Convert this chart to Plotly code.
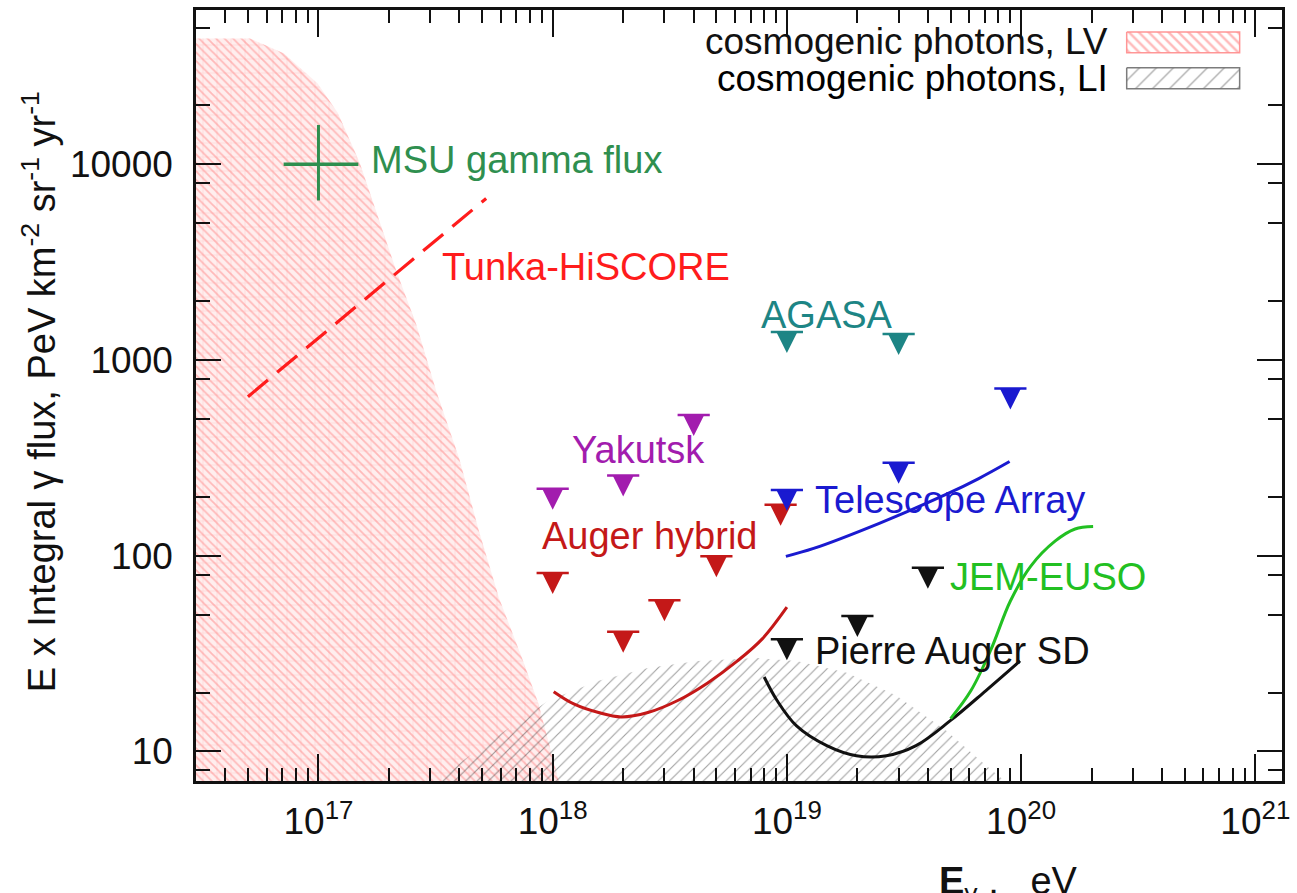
import numpy as np
import plotly.graph_objects as go

# ---------------- data (energy in eV, E x integral flux in PeV km^-2 sr^-1 yr^-1) ----------------
# cosmogenic photons, Lorentz-violating scenario: upper edge of the band
lv_E = [3.0e16, 5.1e16, 7.1e16, 9.9e16, 1.21e17, 1.50e17, 1.77e17, 2.16e17, 2.62e17,
        3.19e17, 3.99e17, 4.85e17, 5.90e17, 7.39e17, 8.7e17, 1.06e18]
lv_F = [4.4e4, 4.4e4, 3.7e4, 2.6e4, 1.83e4, 1.02e4, 5680, 2810, 1510,
        689, 314, 133, 60.8, 30.1, 17.5, 7.1]

# cosmogenic photons, Lorentz-invariant scenario: upper edge of the band
li_E = [3.1e17, 4.85e17, 9.6e17, 1.57e18, 2.55e18, 4.16e18, 7.47e18, 1.1e19,
        1.8e19, 2.93e19, 4.78e19, 7.06e19, 8.6e19]
li_F = [7.0, 10.3, 18.2, 23.0, 26.7, 29.0, 30.0, 29.0, 25.2, 19.3, 12.8, 8.5, 7.0]

# MSU gamma flux point with its ranges
msu_E, msu_F = [1e17], [1e4]
msu_E_lo, msu_E_hi = [7.1e16], [1.48e17]
msu_F_lo, msu_F_hi = [6540], [15900]

# Tunka-HiSCORE expected sensitivity
tunka_E = [5.0e16, 5.2e17]
tunka_F = [650, 6700]

# upper limits
agasa_E = [1e19, 3e19]
agasa_F = [1390, 1360]

yakutsk_E = [1e18, 2e18, 4e18]
yakutsk_F = [220, 257, 524]

hybrid_E = [1e18, 2e18, 3e18, 5e18, 9.4e18]
hybrid_F = [81.7, 40.9, 59.3, 99.4, 182]

ta_E = [1e19, 3e19, 9e19]
ta_F = [217, 299, 715]

sd_E = [1e19, 2e19, 4e19]
sd_F = [37.4, 49.2, 86.7]

# sensitivity curves
hybrid_curve_E = [1.01e18, 1.23e18, 1.57e18, 1.96e18, 2.55e18, 3.42e18, 4.59e18, 6.15e18, 7.85e18, 1.0e19]
hybrid_curve_F = [20.2, 17.5, 15.8, 15.0, 15.8, 18.2, 22.4, 29.0, 37.6, 54.6]

sd_curve_E = [8.0e18, 9.08e18, 1.1e19, 1.48e19, 1.98e19, 2.66e19, 3.56e19, 5.0e19, 7.06e19, 9.9e19]
sd_curve_F = [24.0, 18.2, 13.5, 10.7, 9.5, 9.5, 10.7, 14.4, 20.4, 29.0]

jem_E = [5.0e19, 6.1e19, 7.4e19, 9.0e19, 1.1e20, 1.4e20, 1.7e20, 2.03e20]
jem_F = [14.7, 20.4, 32.7, 58.7, 88.5, 119, 137, 141]

ta_curve_E = [9.9e18, 1.30e19, 2.48e19, 4.78e19, 6.59e19, 8.93e19]
ta_curve_F = [99.3, 109, 146.5, 205.6, 248, 303]

x_major = [1e17, 1e18, 1e19, 1e20, 1e21]
x_major_text = ["10<sup>17</sup>", "10<sup>18</sup>", "10<sup>19</sup>", "10<sup>20</sup>", "10<sup>21</sup>"]
y_major = [10, 100, 1000, 10000]
y_major_text = ["10", "100", "1000", "10000"]

# ---------------- styling ----------------
FONT = "Liberation Sans, Arial, Helvetica, sans-serif"
FS = 38
C_AGASA = "#1d8585"
C_YAK = "#a21cae"
C_HYB = "#c41818"
C_TA = "#1a1ad0"
C_SD = "#111111"
C_JEM = "#22c022"
C_MSU = "#2f8f4f"
C_TUNKA = "#ff1c1c"

FLOOR = 1.0  # closes the bands below the visible range

fig = go.Figure()

# LV band: fine diagonal hatch over a faint grid
lv_x = lv_E + [lv_E[-1], lv_E[0]]
lv_y = lv_F + [FLOOR, FLOOR]
fig.add_trace(go.Scatter(
    x=lv_x, y=lv_y, mode="lines", line=dict(width=0), fill="toself", fillcolor="rgba(0,0,0,0)",
    fillpattern=dict(shape="\\", fgcolor="rgba(255,105,105,0.8)", bgcolor="rgba(255,222,222,0.5)",
                     size=6, solidity=0.3),
    hoverinfo="skip", showlegend=False))
fig.add_trace(go.Scatter(
    x=lv_x, y=lv_y, mode="lines", line=dict(width=0), fill="toself", fillcolor="rgba(0,0,0,0)",
    fillpattern=dict(shape="+", fgcolor="rgba(255,120,120,0.35)", size=14, solidity=0.12),
    hoverinfo="skip", showlegend=False))

# LI band
fig.add_trace(go.Scatter(
    x=li_E + [li_E[-1], li_E[0]], y=li_F + [FLOOR, FLOOR],
    mode="lines", line=dict(width=0), fill="toself", fillcolor="rgba(0,0,0,0)",
    fillpattern=dict(shape="/", fgcolor="rgba(30,30,30,0.85)", size=8, solidity=0.14),
    hoverinfo="skip", showlegend=False))

# sensitivity curves
fig.add_trace(go.Scatter(x=tunka_E, y=tunka_F, mode="lines",
                         line=dict(color=C_TUNKA, width=3.2, dash="26px,12px"), showlegend=False))
fig.add_trace(go.Scatter(x=hybrid_curve_E, y=hybrid_curve_F, mode="lines",
                         line=dict(color=C_HYB, width=3, shape="spline"), showlegend=False))
fig.add_trace(go.Scatter(x=sd_curve_E, y=sd_curve_F, mode="lines",
                         line=dict(color=C_SD, width=3, shape="spline"), showlegend=False))
fig.add_trace(go.Scatter(x=jem_E, y=jem_F, mode="lines",
                         line=dict(color=C_JEM, width=3, shape="spline"), showlegend=False))
fig.add_trace(go.Scatter(x=ta_curve_E, y=ta_curve_F, mode="lines",
                         line=dict(color=C_TA, width=3, shape="spline"), showlegend=False))

# MSU point with ranges
fig.add_trace(go.Scatter(
    x=msu_E, y=msu_F, mode="markers", marker=dict(size=1, color=C_MSU),
    error_x=dict(type="data", symmetric=False,
                 array=[msu_E_hi[0] - msu_E[0]], arrayminus=[msu_E[0] - msu_E_lo[0]],
                 color=C_MSU, thickness=3.5, width=0),
    error_y=dict(type="data", symmetric=False,
                 array=[msu_F_hi[0] - msu_F[0]], arrayminus=[msu_F[0] - msu_F_lo[0]],
                 color=C_MSU, thickness=3, width=0),
    showlegend=False))


def add_limits(E, F, color):
    """Upper-limit symbol: horizontal bar at the limit with a triangle hanging below it."""
    fig.add_trace(go.Scatter(
        x=E, y=F, mode="markers",
        marker=dict(symbol="arrow-down", size=21, standoff=21, color=color,
                    line=dict(width=0)),
        showlegend=False))
    fig.add_trace(go.Scatter(
        x=E, y=F, mode="markers",
        marker=dict(symbol="line-ew", size=23, color=color,
                    line=dict(width=2.5, color=color)),
        showlegend=False))


add_limits(agasa_E, agasa_F, C_AGASA)
add_limits(yakutsk_E, yakutsk_F, C_YAK)
add_limits(hybrid_E, hybrid_F, C_HYB)
add_limits(ta_E, ta_F, C_TA)
add_limits(sd_E, sd_F, C_SD)

# legend swatches, drawn on an overlay axis spanning the plot area (0..1)
sw_x = [0.857, 0.961, 0.961, 0.857, 0.857]
fig.add_trace(go.Scatter(
    x=sw_x, y=[0.9716, 0.9716, 0.9444, 0.9444, 0.9716], xaxis="x2", yaxis="y2",
    mode="lines", line=dict(width=1.5, color="rgba(255,140,140,0.9)"), fill="toself",
    fillcolor="rgba(0,0,0,0)",
    fillpattern=dict(shape="\\", fgcolor="rgba(255,100,100,0.9)", size=7, solidity=0.35),
    hoverinfo="skip", showlegend=False))
fig.add_trace(go.Scatter(
    x=sw_x, y=[0.925, 0.925, 0.898, 0.898, 0.925], xaxis="x2", yaxis="y2",
    mode="lines", line=dict(width=1.5, color="rgba(110,110,110,0.9)"), fill="toself",
    fillcolor="rgba(0,0,0,0)",
    fillpattern=dict(shape="/", fgcolor="rgba(60,60,60,0.8)", size=12, solidity=0.12),
    hoverinfo="skip", showlegend=False))

annotations = []


def label(text, E, F, color):
    annotations.append(dict(text=text, x=np.log10(E), y=np.log10(F), xref="x", yref="y",
                            xanchor="left", yanchor="middle", showarrow=False,
                            font=dict(family=FONT, size=FS, color=color)))


label("MSU gamma flux", 1.64e17, 1.05e4, C_MSU)
label("Tunka-HiSCORE", 3.3e17, 2980, C_TUNKA)
label("AGASA", 7.6e18, 1700, C_AGASA)
label("Yakutsk", 1.19e18, 347, C_YAK)
label("Auger hybrid", 8.8e17, 126, C_HYB)
label("Telescope Array", 1.29e19, 192, C_TA)
label("JEM-EUSO", 4.85e19, 77.6, C_JEM)
label("Pierre Auger SD", 1.29e19, 32.7, C_SD)

# legend texts
annotations.append(dict(text="cosmogenic photons, LV", x=0.8416, y=0.959, xref="paper", yref="paper",
                        xanchor="right", yanchor="middle", showarrow=False,
                        font=dict(family=FONT, size=37, color="#111")))
annotations.append(dict(text="cosmogenic photons, LI", x=0.8416, y=0.911, xref="paper", yref="paper",
                        xanchor="right", yanchor="middle", showarrow=False,
                        font=dict(family=FONT, size=37, color="#000")))

# axis titles
annotations.append(dict(
    text="E x Integral \u03b3 flux, PeV km<sup>-2</sup> sr<sup>-1</sup> yr<sup>-1</sup>",
    x=-0.145, y=0.505, xref="paper", yref="paper", textangle=-90,
    xanchor="center", yanchor="middle", showarrow=False,
    font=dict(family=FONT, size=38, color="#111")))
annotations.append(dict(
    text="<b>E</b><sub>\u03b3</sub> ,\u00a0\u00a0 eV", x=0.748, y=-0.1, xref="paper", yref="paper",
    xanchor="center", yanchor="top", showarrow=False,
    font=dict(family=FONT, size=38, color="#111")))

axis_common = dict(type="log", showgrid=False, zeroline=False, showline=True, linewidth=2.5,
                   linecolor="#111", mirror="ticks", ticks="inside", tickwidth=2,
                   tickcolor="#111", tickfont=dict(family=FONT, size=37, color="#111"))

x_minor = [k * 10.0 ** n for n in range(16, 21) for k in range(2, 10)]
y_minor = [k * 10.0 ** n for n in range(0, 5) for k in (2, 5, 8)]

fig.update_layout(
    width=1297, height=893,
    margin=dict(l=196, r=9, t=7, b=112),
    paper_bgcolor="white", plot_bgcolor="white",
    showlegend=False,
    annotations=annotations,
    xaxis=dict(axis_common, range=[np.log10(3e16), np.log10(1.3e21)],
               tickvals=x_major, ticktext=x_major_text, ticklen=27, ticklabelstandoff=6,
               minor=dict(tickvals=x_minor, ticklen=13, tickwidth=2, ticks="inside", tickcolor="#111")),
    yaxis=dict(axis_common, range=[np.log10(7.06), np.log10(6.15e4)],
               tickvals=y_major, ticktext=y_major_text, ticklen=25, ticklabelstandoff=13,
               minor=dict(tickvals=y_minor, ticklen=14, tickwidth=2, ticks="inside", tickcolor="#111")),
    xaxis2=dict(overlaying="x", range=[0, 1], visible=False, fixedrange=True),
    yaxis2=dict(overlaying="y", range=[0, 1], visible=False, fixedrange=True),
)

fig.write_html("out.html")
